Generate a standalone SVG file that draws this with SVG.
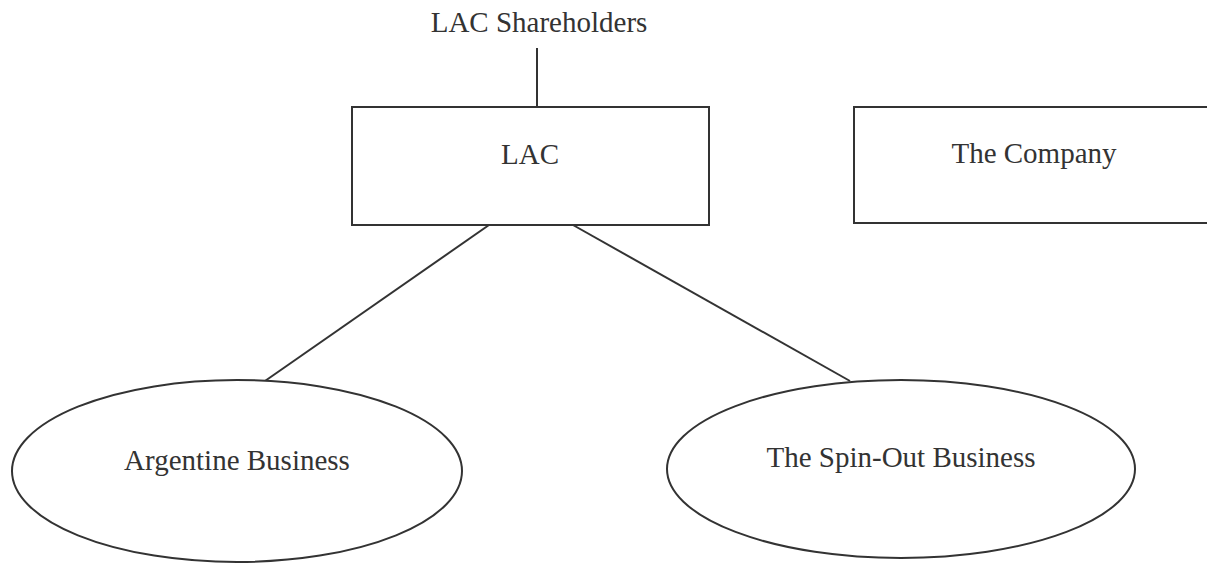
<svg xmlns="http://www.w3.org/2000/svg" width="1207" height="564" viewBox="0 0 1207 564">
<style>
.box{fill:#fff;stroke:#333;stroke-width:2}
.lbl{font-family:"Liberation Serif","Times New Roman",serif;font-size:29px;fill:#333;text-anchor:middle}
.conn{stroke:#333;stroke-width:2;fill:none}
</style>
<rect width="1207" height="564" fill="#fff"/>
<g id="connectors">
<line class="conn" x1="537" y1="48" x2="537" y2="107"/>
<line class="conn" x1="489" y1="225" x2="265" y2="381"/>
<line class="conn" x1="573" y1="225" x2="850" y2="381"/>
</g>
<g id="shareholders">
<text class="lbl" x="539" y="32">LAC Shareholders</text>
</g>
<g id="lac">
<rect class="box" x="352" y="107" width="357" height="118"/>
<text class="lbl" x="530" y="164">LAC</text>
</g>
<g id="company">
<rect class="box" x="854" y="107" width="360" height="116"/>
<text class="lbl" x="1034" y="163">The Company</text>
</g>
<g id="argentine">
<ellipse class="box" cx="237" cy="471" rx="225" ry="91"/>
<text class="lbl" x="237" y="470">Argentine Business</text>
</g>
<g id="spinout">
<ellipse class="box" cx="901" cy="469" rx="234" ry="89"/>
<text class="lbl" x="901" y="467">The Spin-Out Business</text>
</g>
</svg>
